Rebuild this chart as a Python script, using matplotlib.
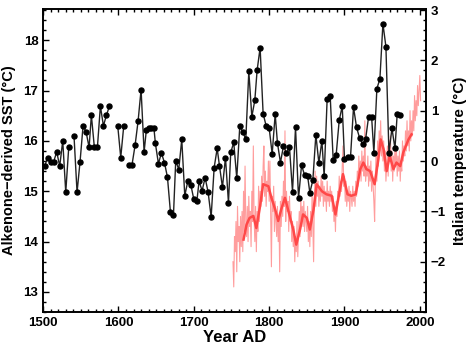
import numpy as np
import matplotlib
matplotlib.use("Agg")
import matplotlib.pyplot as plt
from matplotlib.ticker import MultipleLocator

plt.rcParams['font.family'] = ['Liberation Sans', 'DejaVu Sans']
plt.rcParams['font.weight'] = 'bold'

# alkenone SST record (nan = gap in the record)
sst_years = [1502, 1506, 1510, 1514, 1518, 1522, 1526, 1530, 1534, 1538,
             1541, 1545, 1549, 1553, 1557, 1561, 1564, 1568, 1572, 1576,
             1580, 1584, 1588, 1592, 1599, 1603, 1607, 1610, 1614, 1618,
             1622, 1626, 1630, 1634, 1637, 1640, 1643, 1647, 1649, 1653,
             1657, 1661, 1665, 1669, 1673, 1676, 1680, 1684, 1688, 1692,
             1696, 1700, 1704, 1707, 1711, 1715, 1719, 1723, 1727, 1731,
             1734, 1738, 1742, 1746, 1749, 1753, 1757, 1761, 1765, 1769,
             1773, 1777, 1781, 1784, 1788, 1792, 1796, 1800, 1804, 1808,
             1811, 1815, 1819, 1823, 1827, 1831, 1835, 1839, 1843, 1847,
             1851, 1854, 1858, 1862, 1866, 1870, 1873, 1877, 1881, 1885,
             1889, 1893, 1897, 1900, 1904, 1908, 1912, 1916, 1920, 1924,
             1928, 1932, 1936, 1939, 1943, 1947, 1951, 1955, 1959, 1963,
             1967, 1970, 1974]
sst = [15.50, 15.67, 15.59, 15.59, 15.78, 15.50, 16.00, 14.98, 15.88, np.nan,
       16.09, 14.98, 15.59, 16.30, 16.18, 15.87, 16.51, 15.87, 15.87, 16.69,
       16.30, 16.51, 16.69, np.nan, 16.30, 15.67, 16.30, np.nan, 15.53, 15.53,
       15.91, 16.39, 17.02, 15.78, 16.22, 16.25, 16.26, 16.26, 15.95, 15.55,
       15.76, 15.57, 15.28, 14.58, 14.53, 15.61, 15.43, 16.03, 14.91, 15.20,
       15.13, 14.84, 14.80, 15.20, 15.01, 15.27, 14.98, 14.49, 15.47, 15.85,
       15.51, 15.08, 15.67, 14.77, 15.77, 15.97, 15.26, 16.29, 16.18, 16.03,
       17.38, 16.48, 16.81, 17.40, 17.85, 16.54, 16.30, 16.26, 15.74, 16.53,
       15.96, 15.57, 15.90, 15.76, 15.87, 14.99, 16.27, 14.86, 15.52, 15.32,
       15.31, 14.97, 15.22, 16.12, 15.56, 16.00, 15.30, 16.84, 16.90, 15.62,
       15.73, 16.41, 16.69, 15.64, 15.68, 15.68, 16.67, 16.27, 16.06, 15.94,
       16.03, 16.48, 16.48, 15.76, 17.04, 17.23, 18.33, 17.87, 15.76, 16.25,
       15.85, 16.54, 16.51]

# Italian temperature anomaly, annual values 1752-2001
ita_start = 1752
ita_annual = [
    -2.0, -2.5, -1.5, -1.8, -1.2, -2.2, -0.9, -1.6,
    -1.3, -2.0, -1.1, -1.7, -1.0, -1.8, -0.6, -1.4, -0.1, -1.2,
    -1.5, -0.9, -1.6, -0.7, -1.3, -1.0, -1.7, -0.6, -1.2, 0.3,
    -1.1, -1.6, -0.9, -1.8, -1.0, -1.4, -0.5, -1.2, -0.6, -0.9,
    -0.3, -0.8, -0.1, 0.3, -0.7, -0.2, -0.9, -0.4, -0.6, 0.0,
    -0.8, 0.0, -1.1, -2.1, -0.7, -1.0, -0.5, -1.4, -0.8, -1.2,
    -1.5, -0.9, -1.6, -1.1, -2.2, -0.8, -1.3, -0.7, -1.1, -0.4,
    -0.9, 0.6, -1.2, -0.6, -1.0, -0.8, -1.4, -0.7, -1.2, -1.0,
    -1.6, -1.2, -1.7, -1.3, -2.0, -1.5, -1.8, -1.2, -1.9, -1.4,
    -1.0, -1.5, -0.7, -1.2, -0.9, -1.3, -0.8, -1.4, -1.0, -1.2,
    -1.4, -0.9, -1.6, -1.2, -1.7, -1.0, -1.5, -0.6, -1.3, -2.0,
    -0.8, -0.2, -0.9, -0.3, -0.7, -0.4, -0.9, -0.5, -0.8, -0.3,
    -0.7, -0.4, -0.9, -0.5, -0.8, -0.6, -1.0, -0.4, -0.8, -0.6,
    -0.9, -0.5, -0.8, -0.6, -1.0, -0.7, -1.2, -0.9, -1.4, -0.8,
    -1.1, -0.6, -0.8, -0.3, -0.7, -0.4, -0.6, -0.1, 0.3, -0.5,
    -0.3, -0.8, -0.4, -0.9, -0.6, -0.8, -0.5, -1.0, -0.6, -0.7,
    -0.9, -0.5, -0.8, -0.6, -0.9, -0.4, -0.7, -0.2, -0.5, 0.1,
    -0.3, 0.0, -0.4, 0.2, -0.2, 0.1, -0.3, 0.8, -0.4, -0.1,
    -0.3, 0.1, -0.5, -0.1, -0.4, 0.0, -0.6, -0.2, -0.5, -0.8,
    -1.2, -0.3, 0.2, -0.4, 0.4, -0.1, 0.6, 0.2, 0.8, 0.1,
    0.5, 0.0, 0.4, -0.2, 0.2, -0.4, -0.1, 0.3, -0.3, 0.4,
    0.0, 0.5, -0.2, 0.2, -0.4, 0.1, -0.2, 0.3, -0.1, 0.2,
    -0.3, 0.1, -0.2, 0.2, -0.4, 0.0, -0.2, 0.4, 0.0, 0.3,
    0.1, 0.6, 0.2, 0.8, 0.3, 0.6, 0.2, 1.0, 0.4, 0.8,
    0.5, 1.0, 0.6, 1.3, 0.8, 1.2, 0.9, 1.5, 1.1, 1.4,
    1.7, 1.2]
ita_years = np.arange(ita_start, ita_start + len(ita_annual))

# smoothed Italian temperature
smooth_years = [1766, 1770, 1774, 1779, 1783, 1788, 1792, 1799, 1803, 1808,
                1812, 1816, 1821, 1825, 1832, 1836, 1841, 1845, 1850, 1854,
                1859, 1863, 1870, 1876, 1883, 1888, 1894, 1898, 1904, 1909,
                1915, 1921, 1925, 1929, 1934, 1940, 1945, 1948, 1952, 1956,
                1960, 1965, 1969, 1974, 1978, 1985, 1989]
smooth = [-1.56, -1.26, -1.13, -1.09, -1.33, -0.89, -0.46, -0.50, -0.73, -0.96,
          -1.19, -0.96, -0.73, -0.96, -1.36, -1.66, -1.36, -1.06, -1.13, -1.36,
          -0.96, -0.46, -0.60, -0.66, -0.69, -1.06, -0.56, -0.26, -0.66, -0.69,
          -0.66, -0.16, -0.03, -0.16, -0.20, -0.46, 0.04, 0.43, 0.23, -0.20,
          0.10, -0.16, -0.03, -0.10, 0.17, 0.43, 0.53]

fig = plt.figure(figsize=(4.69, 3.46), dpi=100)
ax = fig.add_axes([0.092, 0.098, 0.816, 0.876])
ax2 = ax.twinx()

ax2.plot(ita_years, ita_annual, color='#ff8c8c', lw=0.8, alpha=0.85)
ax2.plot(smooth_years, smooth, color='#ff4848', lw=1.8)

ax.plot(sst_years, sst, color='#222222', lw=1.0, marker='o', ms=3.6,
        mfc='black', mec='black')
ax.set_zorder(ax2.get_zorder() + 1)
ax.patch.set_visible(False)

ax.set_xlim(1500, 2008)
ax.set_ylim(12.6, 18.62)
ax2.set_ylim(-3.0, 3.02)

ax.xaxis.set_major_locator(MultipleLocator(100))
ax.xaxis.set_minor_locator(MultipleLocator(10))
ax.yaxis.set_major_locator(MultipleLocator(1))
ax.yaxis.set_minor_locator(MultipleLocator(0.2))
ax2.set_yticks([-2, -1, 0, 1, 2, 3])
ax2.yaxis.set_minor_locator(MultipleLocator(0.2))

ax.tick_params(which='both', direction='in', top=True, right=False,
               labelsize=9.5, width=1.0)
ax.tick_params(which='major', length=4)
ax.tick_params(which='minor', length=2)
ax2.tick_params(which='both', direction='in', labelsize=9.5, width=1.0)
ax2.tick_params(which='major', length=4)
ax2.tick_params(which='minor', length=2)
for a in (ax, ax2):
    for s in a.spines.values():
        s.set_linewidth(1.2)
    for lab in a.get_xticklabels() + a.get_yticklabels():
        lab.set_fontweight('bold')

ax.set_xlabel('Year AD', fontsize=12, fontweight='bold', labelpad=1)
ax.set_ylabel('Alkenone\u2212derived SST (\u00b0C)', fontsize=10.5,
              fontweight='bold', labelpad=5)
ax2.set_ylabel('Italian temperature (\u00b0C)', fontsize=11,
               fontweight='bold', labelpad=5)

fig.savefig('out.png', dpi=100)
